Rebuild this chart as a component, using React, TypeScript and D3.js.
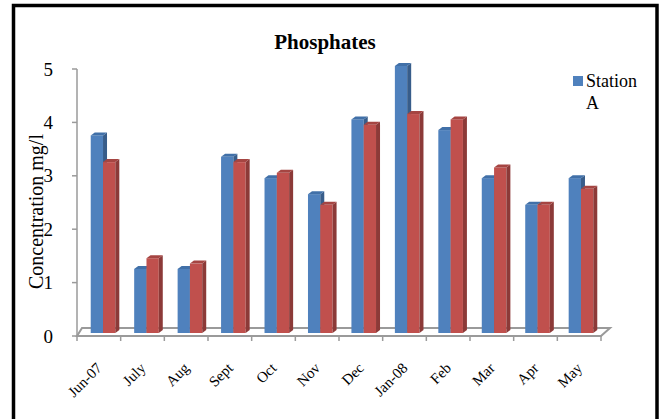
import React from "react";
import * as d3 from "d3";

// Monthly phosphate concentration, two sampling stations
const categories = ["Jun-07", "July", "Aug", "Sept", "Oct", "Nov", "Dec", "Jan-08", "Feb", "Mar", "Apr", "May"];
const stationA = [3.7, 1.2, 1.2, 3.3, 2.9, 2.6, 4.0, 5.0, 3.8, 2.9, 2.4, 2.9];
const stationB = [3.2, 1.4, 1.3, 3.2, 3.0, 2.4, 3.9, 4.1, 4.0, 3.1, 2.4, 2.7];
const yTicks = [0, 1, 2, 3, 4, 5];
const legendLabel = "Station A";
const chartTitle = "Phosphates";
const yTitle = "Concentration mg/l";

const W = 662;
const H = 419;
const FONT = "'Liberation Serif', 'Times New Roman', serif";
const AXIS_GRAY = "#9a9a9a";

const y = d3.scaleLinear().domain([0, 5]).range([336, 69]);
const xAxis = d3.scaleBand().domain(categories).range([77, 601]);
const xBars = d3.scaleBand().domain(categories).range([81.3, 602.7]);

const BAR_W = 12.3;
const PLANE_DY = -3; // bars stand a little behind the front edge of the floor
const DEPTH = { dx: 4, dy: -3 };

const blue = { front: "#4f81bd", side: "#385d8a", top: "#4170a8" };
const red = { front: "#c0504d", side: "#8c3a38", top: "#a54542" };

type Palette = { front: string; side: string; top: string };

function Bar3D({ x0, v, c }: { x0: number; v: number; c: Palette }) {
  const top = y(v) + PLANE_DY;
  const base = y(0) + PLANE_DY;
  const x1 = x0 + BAR_W;
  const { dx, dy } = DEPTH;
  return (
    <g>
      <rect x={x0} y={top} width={BAR_W} height={base - top} fill={c.front} />
      <polygon
        points={`${x1},${top} ${x1 + dx},${top + dy} ${x1 + dx},${base + dy} ${x1},${base}`}
        fill={c.side}
      />
      <polygon
        points={`${x0},${top} ${x0 + dx},${top + dy} ${x1 + dx},${top + dy} ${x1},${top}`}
        fill={c.top}
      />
    </g>
  );
}

export default function App() {
  const [ax0, ax1] = xAxis.range();
  const y0 = y(0);
  const floor = `${ax0},${y0} ${ax1},${y0} ${ax1 + 9},${y0 - 8} ${ax0 + 5},${y0 - 8}`;
  const boundaries = d3.range(categories.length + 1).map((i) => ax0 + i * xAxis.step());

  return (
    <svg
      width={W}
      height={H}
      style={{ position: "fixed", left: 0, top: 0, background: "#fff" }}
      fontFamily={FONT}
    >
      <rect x={0} y={0} width={W} height={H} fill="#fff" />
      {/* outer frame */}
      <rect x={13.5} y={5.5} width={643.5} height={430} fill="none" stroke="#000" strokeWidth={3.5} />

      <text x={325} y={49} textAnchor="middle" fontSize={21} fontWeight="bold">
        {chartTitle}
      </text>

      {/* floor */}
      <polygon points={floor} fill="none" stroke={AXIS_GRAY} strokeWidth={2} />
      {boundaries.map((bx, i) => (
        <line key={i} x1={bx} x2={bx} y1={y0} y2={y0 + 5} stroke={AXIS_GRAY} strokeWidth={1.5} />
      ))}

      {/* value axis */}
      <line x1={ax0} x2={ax0} y1={y(5)} y2={y0} stroke={AXIS_GRAY} strokeWidth={1.5} />
      {yTicks.map((t) => (
        <g key={t}>
          <line x1={ax0 - 5} x2={ax0} y1={y(t)} y2={y(t)} stroke={AXIS_GRAY} strokeWidth={1.5} />
          <text x={53} y={y(t) + 6.5} textAnchor="end" fontSize={19}>
            {t}
          </text>
        </g>
      ))}

      {/* bars */}
      {categories.map((cat, i) => {
        const gc = (xBars(cat) as number) + xBars.bandwidth() / 2;
        return (
          <g key={cat}>
            <Bar3D x0={gc - BAR_W} v={stationA[i]} c={blue} />
            <Bar3D x0={gc} v={stationB[i]} c={red} />
          </g>
        );
      })}

      <text transform={`translate(43,211.5) rotate(-90)`} textAnchor="middle" fontSize={20}>
        {yTitle}
      </text>

      {/* category labels */}
      {categories.map((cat) => {
        const cx = (xAxis(cat) as number) + xAxis.bandwidth() / 2;
        return (
          <text
            key={cat}
            transform={`translate(${cx + 4},369) rotate(-45)`}
            textAnchor="end"
            fontSize={15}
          >
            {cat}
          </text>
        );
      })}

      {/* legend */}
      <rect x={573} y={76} width={10} height={10} fill={blue.front} />
      <text x={586} y={86.7} fontSize={18}>
        {legendLabel.split(" ")[0]}
      </text>
      <text x={586} y={109.3} fontSize={18}>
        {legendLabel.split(" ")[1]}
      </text>
    </svg>
  );
}
